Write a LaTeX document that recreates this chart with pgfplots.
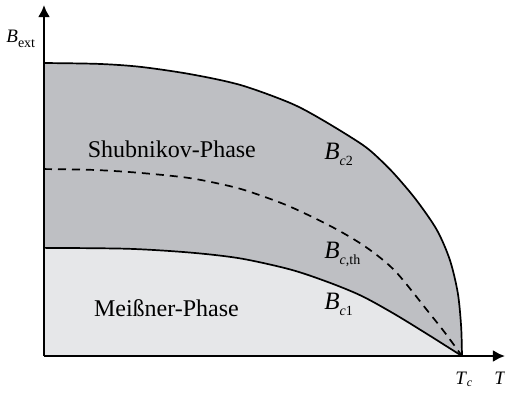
\documentclass[border=0pt]{standalone}
\usepackage{pgfplots}
\pgfplotsset{compat=1.18}
\usetikzlibrary{arrows.meta}
\usepackage{fontspec}
\setmainfont{Liberation Serif}

\definecolor{shubfill}{RGB}{190,191,195}
\definecolor{meissfill}{RGB}{230,231,233}

% critical field label: italic B with a small lowered index
\newcommand{\crit}[1]{{\fontsize{12.5}{14}\selectfont\textit{B}\raisebox{-3pt}{\fontsize{7}{7}\selectfont #1}}}

\pgfplotstableread{
T     B
0     1.000
0.13  0.997
0.23  0.987
0.35  0.962
0.47  0.925
0.59  0.863
0.667 0.805
0.763 0.720
0.808 0.665
0.844 0.612
0.892 0.530
0.94  0.430
0.971 0.328
0.99  0.215
0.998 0.100
1.000 0
}\bctwo

\pgfplotstableread{
T     B
0     0.369
0.2   0.366
0.35  0.353
0.47  0.333
0.59  0.295
0.68  0.252
0.76  0.205
0.84  0.142
0.92  0.072
0.96  0.036
1     0
}\bcone

\pgfplotstableread{
T     B
0     0.638
0.12  0.635
0.23  0.625
0.35  0.607
0.45  0.578
0.51  0.552
0.59  0.509
0.69  0.440
0.77  0.372
0.84  0.290
0.92  0.150
0.96  0.078
1     0
}\bcth

\begin{document}
\begin{tikzpicture}
\useasboundingbox (-22pt,-18.5pt) rectangle (230.5pt,178pt);
\begin{axis}[
  scale only axis,
  width=230.5pt, height=175.5pt,
  xmin=0, xmax=1.1029, ymin=0, ymax=1.198,
  axis lines=left,
  axis on top,
  axis line style={line width=1.4pt},
  every outer x axis line/.append style={-{Latex[length=6pt,width=6pt]}},
  every outer y axis line/.append style={-{Latex[length=6pt,width=6pt]}},
  xtick=\empty, ytick=\empty,
  clip=false,
]
\addplot[draw=none, fill=shubfill, smooth, tension=0.5] table[x=T,y=B] {\bctwo} \closedcycle;
\addplot[draw=none, fill=meissfill, smooth, tension=0.5] table[x=T,y=B] {\bcone} \closedcycle;

\addplot[black, line width=0.85pt, smooth, tension=0.5] table[x=T,y=B] {\bctwo};
\addplot[black, line width=0.85pt, smooth, tension=0.5] table[x=T,y=B] {\bcone};
\addplot[black, line width=0.85pt, dash pattern=on 4pt off 3pt, smooth, tension=0.5] table[x=T,y=B] {\bcth};

\node[anchor=base, inner sep=0] at (axis cs:0.306,0.676)
  {\fontsize{12}{14}\selectfont Shubnikov-Phase};
\node[anchor=base, inner sep=0] at (axis cs:0.293,0.134)
  {\fontsize{12}{14}\selectfont Meißner-Phase};

\node[anchor=base west, inner sep=0] at (axis cs:0.670,0.671) {\crit{\textit{c}2}};
\node[anchor=base west, inner sep=0] at (axis cs:0.670,0.333) {\crit{\textit{c},th}};
\node[anchor=base west, inner sep=0] at (axis cs:0.670,0.159) {\crit{\textit{c}1}};

\node[anchor=base west, inner sep=0] at (axis cs:-0.0909,1.0717)
  {\fontsize{9.5}{11}\selectfont\textit{B}\raisebox{-2.5pt}{\fontsize{7}{7}\selectfont ext}};
\node[anchor=base west, inner sep=0] at (axis cs:0.983,-0.0956)
  {\fontsize{9.5}{11}\selectfont\textit{T}\raisebox{-1pt}{\fontsize{6}{6}\selectfont\textit{c}}};
\node[anchor=base west, inner sep=0] at (axis cs:1.0766,-0.0956)
  {\fontsize{9.5}{11}\selectfont\textit{T}};
\end{axis}
\end{tikzpicture}
\end{document}
